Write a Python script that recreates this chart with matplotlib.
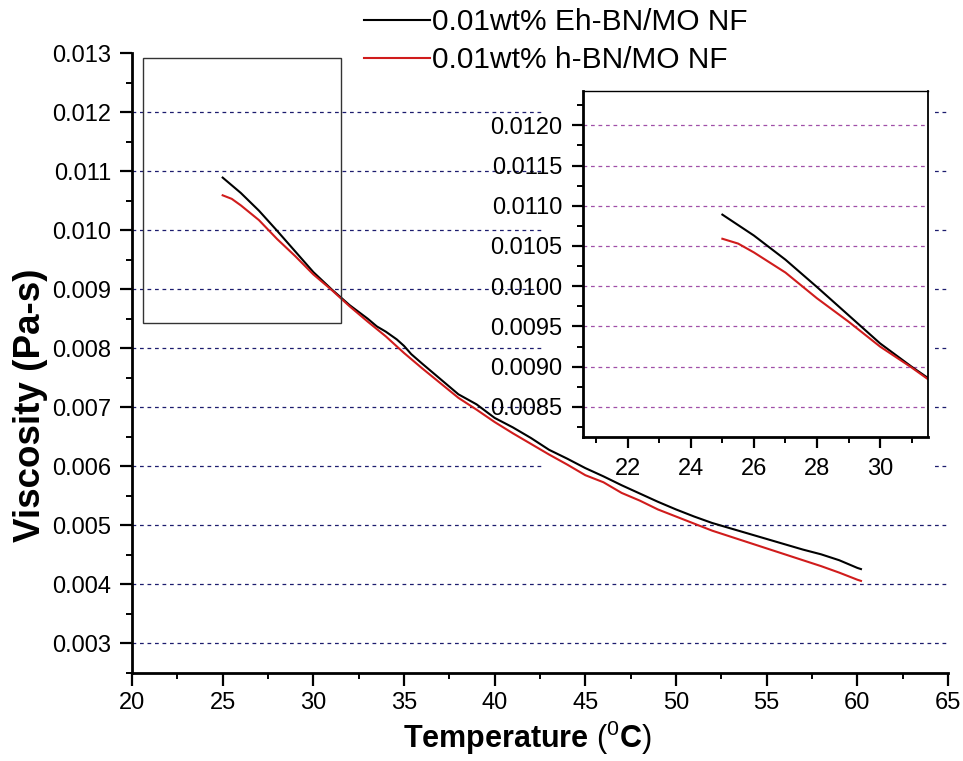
import matplotlib
matplotlib.use("Agg")
import matplotlib.pyplot as plt
from matplotlib.patches import Rectangle
from matplotlib.ticker import MultipleLocator

plt.rcParams['font.family'] = ['Liberation Sans', 'DejaVu Sans']
plt.rcParams['mathtext.fontset'] = 'custom'
plt.rcParams['mathtext.rm'] = 'Liberation Sans'
plt.rcParams['mathtext.bf'] = 'Liberation Sans:bold'

# viscosity vs temperature, 0.01wt% Eh-BN/MO NF
temp_eh = [25, 26, 27, 28, 29, 30, 31, 32, 33, 33.5, 34, 34.6, 35, 35.4, 36, 37, 38, 39,
           40, 41, 42, 43, 44, 45, 46, 47, 48, 49, 50, 51, 52, 53, 54, 55, 56, 57,
           58, 59, 60, 60.2]
visc_eh = [0.01089, 0.01063, 0.01033, 0.00999, 0.00964, 0.00929, 0.00900, 0.00873,
           0.00850, 0.00837, 0.00828, 0.00815, 0.00804, 0.00790, 0.00774, 0.00748,
           0.00722, 0.00705, 0.00682, 0.00666, 0.00648, 0.00628, 0.00613, 0.00597,
           0.00583, 0.00568, 0.00554, 0.00540, 0.00527, 0.00515, 0.00504, 0.00495,
           0.00486, 0.00477, 0.00468, 0.00459, 0.00451, 0.00441, 0.00428, 0.00426]

# viscosity vs temperature, 0.01wt% h-BN/MO NF
temp_h = [25, 25.5, 26, 27, 28, 29, 30, 31, 32, 33, 34, 35, 36, 37, 38, 39, 40, 41,
          42, 43, 44, 45, 46, 47, 48, 49, 50, 51, 52, 53, 54, 55, 56, 57, 58, 59,
          60, 60.2]
visc_h = [0.01059, 0.01053, 0.01042, 0.01017, 0.00985, 0.00956, 0.00925, 0.00899,
          0.00871, 0.00845, 0.00820, 0.00792, 0.00766, 0.00741, 0.00716, 0.00696,
          0.00675, 0.00656, 0.00638, 0.00620, 0.00603, 0.00585, 0.00573, 0.00555,
          0.00542, 0.00527, 0.00515, 0.00503, 0.00491, 0.00481, 0.00471, 0.00461,
          0.00451, 0.00441, 0.00431, 0.00420, 0.00408, 0.00406]

labels = ['0.01wt% Eh-BN/MO NF', '0.01wt% h-BN/MO NF']
colors = ['black', '#d01c1c']

main_grid = [0.003, 0.004, 0.005, 0.006, 0.007, 0.008, 0.009, 0.010, 0.011, 0.012]
inset_grid = [0.0085, 0.0090, 0.0095, 0.0100, 0.0105, 0.0110, 0.0115, 0.0120]

fig = plt.figure(figsize=(9.63, 7.61), dpi=100)

# ---- main panel ----
ax = fig.add_axes([132/963, 1 - 673/761, 816/963, 620/761])
ax.set_xlim(20, 65)
ax.set_ylim(0.0025, 0.013)
for g in main_grid:
    ax.axhline(g, color='#1c1c6e', lw=0.9, ls=(0, (3, 3)), zorder=0.5)

# white backing behind the inset block
ax.add_patch(Rectangle((0.5025, 0.30), 0.482, 0.70, transform=ax.transAxes,
                       facecolor='white', edgecolor='none', zorder=1, clip_on=False))

l1, = ax.plot(temp_eh, visc_eh, color=colors[0], lw=1.5, zorder=2)
l2, = ax.plot(temp_h, visc_h, color=colors[1], lw=1.5, zorder=2.1)

# zoom window marker
ax.add_patch(Rectangle((20.6, 0.00843), 10.9, 0.00448, facecolor='none',
                       edgecolor='#333333', lw=1.0, zorder=3))

for s in ['top', 'right']:
    ax.spines[s].set_visible(False)
for s in ['left', 'bottom']:
    ax.spines[s].set_linewidth(2)
ax.xaxis.set_major_locator(MultipleLocator(5))
ax.xaxis.set_minor_locator(MultipleLocator(2.5))
ax.yaxis.set_major_locator(MultipleLocator(0.001))
ax.yaxis.set_minor_locator(MultipleLocator(0.0005))
ax.yaxis.set_major_formatter(plt.FuncFormatter(lambda v, p: f'{v:.3f}'))
ax.tick_params(which='major', direction='out', length=9, width=1.6, labelsize=17)
ax.tick_params(which='minor', direction='out', length=4, width=1.4)
ax.tick_params(axis='y', pad=6)
ax.tick_params(axis='x', pad=5)

fig.text(30/963, 1 - 405/761, 'Viscosity (Pa-s)', rotation=90, fontsize=26.5,
         fontweight='bold', ha='center', va='center')
fig.text(527/963, 1 - 738/761, r'Temperature $(^{0}\mathbf{C})$', fontsize=22,
         fontweight='bold', ha='center', va='center')

# ---- inset panel ----
ins = fig.add_axes([583.3/963, 1 - 436.7/761, 345/963, 346/761])
ins.set_facecolor('white')
ins.set_xlim(20.59, 31.53)
ins.set_ylim(0.00813, 0.01243)
for g in inset_grid:
    ins.axhline(g, color='#a050a8', lw=0.9, ls=(0, (3, 3)), zorder=0.5)
ins.plot(temp_eh, visc_eh, color=colors[0], lw=1.5)
ins.plot(temp_h, visc_h, color=colors[1], lw=1.5)
ins.spines['left'].set_linewidth(2)
ins.spines['bottom'].set_linewidth(2)
ins.spines['top'].set_linewidth(1)
ins.spines['right'].set_linewidth(1.3)
ins.xaxis.set_major_locator(MultipleLocator(2))
ins.xaxis.set_minor_locator(MultipleLocator(1))
ins.yaxis.set_major_locator(MultipleLocator(0.0005))
ins.yaxis.set_minor_locator(MultipleLocator(0.00025))
ins.yaxis.set_major_formatter(plt.FuncFormatter(lambda v, p: f'{v:.4f}'))
ins.tick_params(which='major', direction='out', length=8, width=1.6, labelsize=17, pad=7)
ins.tick_params(which='minor', direction='out', length=4, width=1.4)

# ---- legend ----
fig.legend([l1, l2], labels, loc='upper left', bbox_to_anchor=(364/963, 1 - 8/761),
           frameon=False, fontsize=21.5, handlelength=2.2, handletextpad=0.08,
           labelspacing=0.35, borderpad=0, borderaxespad=0)

fig.savefig('out.png', dpi=100)
